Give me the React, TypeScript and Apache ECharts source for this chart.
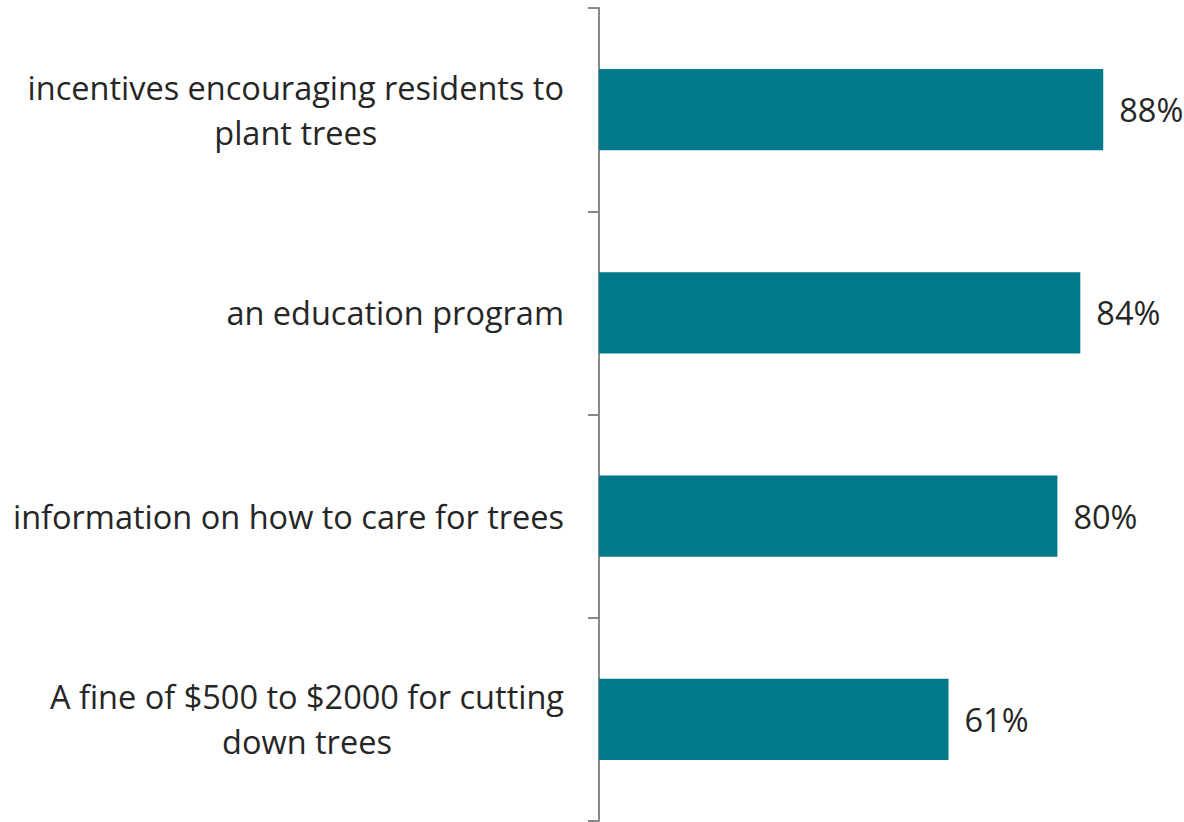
import React, { useEffect, useRef } from "react";
import * as echarts from "echarts";

const categories: string[][] = [
  ["incentives encouraging residents to", "plant trees"],
  ["an education program"],
  ["information on how to care for trees"],
  ["A fine of $500 to $2000 for cutting", "down trees"],
];
const values: number[] = [88, 84, 80, 61];

export default function App() {
  const ref = useRef<HTMLDivElement>(null);
  useEffect(() => {
    if (!ref.current) return;
    const chart = echarts.init(ref.current, undefined, { renderer: "svg" });
    const font = "'Open Sans', Lato, sans-serif";
    const fs = 32.5;
    chart.setOption({
      animation: false,
      grid: { left: 599, top: 8, width: 573, height: 813, containLabel: false },
      xAxis: { type: "value", min: 0, max: 100, show: false },
      yAxis: {
        type: "category",
        inverse: true,
        data: categories.map((c) => c.join("\n")),
        axisLine: { show: true, lineStyle: { color: "#888888", width: 2 } },
        axisTick: { show: true, length: 11, lineStyle: { color: "#888888", width: 2 } },
        axisLabel: {
          margin: 35,
          align: "right",
          color: "#262626",
          fontFamily: font,
          fontSize: fs,
          lineHeight: 45,
          formatter: (v: string) =>
            v.split("\n").map((l) => `{c|${l}}`).join("\n"),
          rich: {
            c: { align: "center", fontFamily: font, fontSize: fs, lineHeight: 45, color: "#262626" },
          },
        },
      },
      series: [
        {
          type: "bar",
          data: values,
          barWidth: "40%",
          itemStyle: { color: "#007A8A" },
          label: {
            show: true,
            position: "right",
            distance: 16,
            formatter: "{c}%",
            color: "#262626",
            fontFamily: font,
            fontSize: fs,
          },
        },
      ],
    });
    return () => chart.dispose();
  }, []);
  return (
    <div
      ref={ref}
      style={{ position: "fixed", left: 0, top: 0, width: 1184, height: 822, background: "#fff" }}
    />
  );
}
